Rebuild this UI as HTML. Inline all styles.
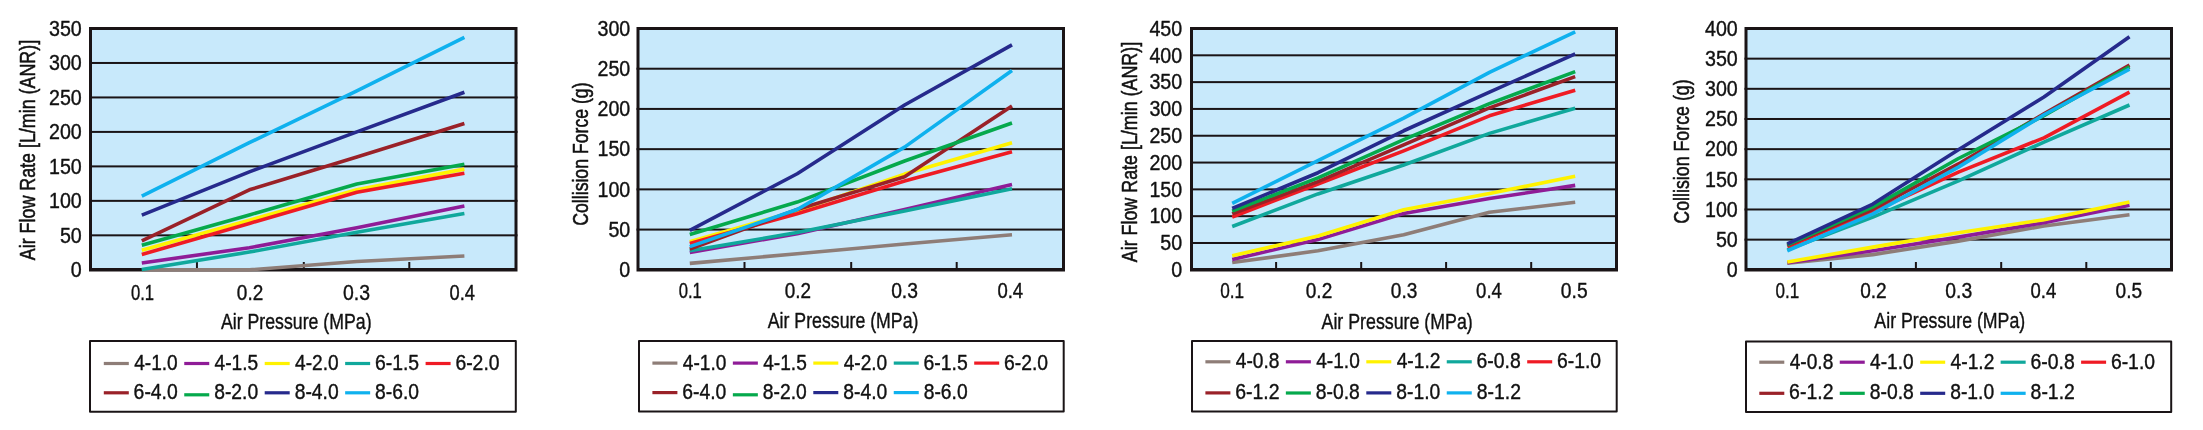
<!DOCTYPE html>
<html><head><meta charset="utf-8"><style>html,body{margin:0;padding:0;background:#fff;}svg{display:block;will-change:transform;}</style></head><body>
<svg width="2203" height="430" viewBox="0 0 2203 430" font-family="&quot;Liberation Sans&quot;, sans-serif" fill="#111" stroke-linejoin="round">
<rect width="2203" height="430" fill="#fff"/>
<rect x="89" y="27" width="428.5" height="244.5" fill="#1a1416"/>
<rect x="92" y="30" width="422.5" height="238.0" fill="#c8e9fb"/>
<rect x="89" y="234.33" width="428.5" height="2" fill="#1a1416"/>
<rect x="89" y="199.86" width="428.5" height="2" fill="#1a1416"/>
<rect x="89" y="165.39" width="428.5" height="2" fill="#1a1416"/>
<rect x="89" y="130.91" width="428.5" height="2" fill="#1a1416"/>
<rect x="89" y="96.44" width="428.5" height="2" fill="#1a1416"/>
<rect x="89" y="61.97" width="428.5" height="2" fill="#1a1416"/>
<rect x="195.95" y="262" width="2" height="7" fill="#1a1416"/>
<rect x="302.80" y="262" width="2" height="7" fill="#1a1416"/>
<rect x="408.30" y="262" width="2" height="7" fill="#1a1416"/>
<polyline points="141.80,269.80 249.33,269.80 356.86,261.53 464.39,256.01" fill="none" stroke="#8e7d77" stroke-width="3.6" stroke-linejoin="round"/>
<polyline points="141.80,262.91 249.33,247.74 356.86,227.74 464.39,206.03" fill="none" stroke="#8f1c97" stroke-width="3.6" stroke-linejoin="round"/>
<polyline points="141.80,250.29 249.33,220.16 356.86,189.83 464.39,169.14" fill="none" stroke="#fff200" stroke-width="3.6" stroke-linejoin="round"/>
<polyline points="141.80,269.52 249.33,252.08 356.86,232.23 464.39,213.40" fill="none" stroke="#10a89c" stroke-width="3.6" stroke-linejoin="round"/>
<polyline points="141.80,254.49 249.33,223.40 356.86,192.31 464.39,173.28" fill="none" stroke="#ef1b24" stroke-width="3.6" stroke-linejoin="round"/>
<polyline points="141.80,240.84 249.33,189.83 356.86,157.01 464.39,123.50" fill="none" stroke="#9a2128" stroke-width="3.6" stroke-linejoin="round"/>
<polyline points="141.80,245.33 249.33,214.92 356.86,183.97 464.39,164.32" fill="none" stroke="#05a94c" stroke-width="3.6" stroke-linejoin="round"/>
<polyline points="141.80,215.13 249.33,171.90 356.86,131.91 464.39,92.20" fill="none" stroke="#262a8c" stroke-width="3.6" stroke-linejoin="round"/>
<polyline points="141.80,196.03 249.33,142.67 356.86,90.89 464.39,37.46" fill="none" stroke="#0fb1ee" stroke-width="3.6" stroke-linejoin="round"/>
<text transform="translate(70.85,277.00) scale(0.9050,1)" font-size="21.70" stroke="#111" stroke-width="0.4">0</text>
<text transform="translate(59.93,242.53) scale(0.9050,1)" font-size="21.70" stroke="#111" stroke-width="0.4">50</text>
<text transform="translate(49.01,208.06) scale(0.9050,1)" font-size="21.70" stroke="#111" stroke-width="0.4">100</text>
<text transform="translate(49.01,173.59) scale(0.9050,1)" font-size="21.70" stroke="#111" stroke-width="0.4">150</text>
<text transform="translate(49.01,139.11) scale(0.9050,1)" font-size="21.70" stroke="#111" stroke-width="0.4">200</text>
<text transform="translate(49.01,104.64) scale(0.9050,1)" font-size="21.70" stroke="#111" stroke-width="0.4">250</text>
<text transform="translate(49.01,70.17) scale(0.9050,1)" font-size="21.70" stroke="#111" stroke-width="0.4">300</text>
<text transform="translate(49.01,35.70) scale(0.9050,1)" font-size="21.70" stroke="#111" stroke-width="0.4">350</text>
<text transform="translate(130.95,299.70) scale(0.7508,1)" font-size="22.20" stroke="#111" stroke-width="0.4">0.1</text>
<text transform="translate(236.86,299.70) scale(0.8552,1)" font-size="22.20" stroke="#111" stroke-width="0.4">0.2</text>
<text transform="translate(343.04,299.70) scale(0.8754,1)" font-size="22.20" stroke="#111" stroke-width="0.4">0.3</text>
<text transform="translate(449.49,299.70) scale(0.8246,1)" font-size="22.20" stroke="#111" stroke-width="0.4">0.4</text>
<text transform="translate(220.96,328.80) scale(0.7981,1)" font-size="22.20" stroke="#111" stroke-width="0.4">Air Pressure (MPa)</text>
<text transform="translate(35.10,260.24) rotate(-90) scale(0.8055,1)" font-size="22.20" stroke="#111" stroke-width="0.55">Air Flow Rate [L/min (ANR)]</text>
<rect x="90" y="341" width="425.79999999999995" height="70.69999999999999" fill="none" stroke="#1a1416" stroke-width="2"/>
<rect x="103.80" y="361.90" width="25" height="3.2" fill="#8e7d77"/>
<text transform="translate(134.16,370.00) scale(0.8895,1)" font-size="21.50" stroke="#111" stroke-width="0.4">4-1.0</text>
<rect x="184.25" y="361.90" width="25" height="3.2" fill="#8f1c97"/>
<text transform="translate(214.61,370.00) scale(0.8907,1)" font-size="21.50" stroke="#111" stroke-width="0.4">4-1.5</text>
<rect x="264.70" y="361.90" width="25" height="3.2" fill="#fff200"/>
<text transform="translate(295.06,370.00) scale(0.8895,1)" font-size="21.50" stroke="#111" stroke-width="0.4">4-2.0</text>
<rect x="345.15" y="361.90" width="25" height="3.2" fill="#10a89c"/>
<text transform="translate(374.96,370.00) scale(0.9021,1)" font-size="21.50" stroke="#111" stroke-width="0.4">6-1.5</text>
<rect x="425.60" y="361.90" width="25" height="3.2" fill="#ef1b24"/>
<text transform="translate(455.41,370.00) scale(0.9009,1)" font-size="21.50" stroke="#111" stroke-width="0.4">6-2.0</text>
<rect x="103.80" y="391.20" width="25" height="3.2" fill="#9a2128"/>
<text transform="translate(133.61,399.20) scale(0.9009,1)" font-size="21.50" stroke="#111" stroke-width="0.4">6-4.0</text>
<rect x="184.25" y="393.20" width="25" height="3.2" fill="#05a94c"/>
<text transform="translate(214.22,399.20) scale(0.8976,1)" font-size="21.50" stroke="#111" stroke-width="0.4">8-2.0</text>
<rect x="264.70" y="391.20" width="25" height="3.2" fill="#262a8c"/>
<text transform="translate(294.67,399.20) scale(0.8976,1)" font-size="21.50" stroke="#111" stroke-width="0.4">8-4.0</text>
<rect x="345.15" y="391.20" width="25" height="3.2" fill="#0fb1ee"/>
<text transform="translate(375.12,399.20) scale(0.8976,1)" font-size="21.50" stroke="#111" stroke-width="0.4">8-6.0</text>
<rect x="636.5" y="27" width="428.5" height="244.5" fill="#1a1416"/>
<rect x="639.5" y="30" width="422.5" height="238.0" fill="#c8e9fb"/>
<rect x="636.5" y="228.58" width="428.5" height="2" fill="#1a1416"/>
<rect x="636.5" y="188.37" width="428.5" height="2" fill="#1a1416"/>
<rect x="636.5" y="148.15" width="428.5" height="2" fill="#1a1416"/>
<rect x="636.5" y="107.93" width="428.5" height="2" fill="#1a1416"/>
<rect x="636.5" y="67.72" width="428.5" height="2" fill="#1a1416"/>
<rect x="743.50" y="262" width="2" height="7" fill="#1a1416"/>
<rect x="850.20" y="262" width="2" height="7" fill="#1a1416"/>
<rect x="955.70" y="262" width="2" height="7" fill="#1a1416"/>
<polyline points="689.80,263.37 797.20,253.71 904.60,244.06 1012.00,234.73" fill="none" stroke="#8e7d77" stroke-width="3.6" stroke-linejoin="round"/>
<polyline points="689.80,252.59 797.20,233.69 904.60,209.48 1012.00,184.38" fill="none" stroke="#8f1c97" stroke-width="3.6" stroke-linejoin="round"/>
<polyline points="689.80,241.65 797.20,210.92 904.60,174.08 1012.00,142.80" fill="none" stroke="#fff200" stroke-width="3.6" stroke-linejoin="round"/>
<polyline points="689.80,250.82 797.20,232.56 904.60,211.08 1012.00,188.72" fill="none" stroke="#10a89c" stroke-width="3.6" stroke-linejoin="round"/>
<polyline points="689.80,243.58 797.20,213.66 904.60,181.00 1012.00,151.80" fill="none" stroke="#ef1b24" stroke-width="3.6" stroke-linejoin="round"/>
<polyline points="689.80,249.13 797.20,209.48 904.60,176.66 1012.00,106.12" fill="none" stroke="#9a2128" stroke-width="3.6" stroke-linejoin="round"/>
<polyline points="689.80,234.49 797.20,202.08 904.60,160.97 1012.00,122.93" fill="none" stroke="#05a94c" stroke-width="3.6" stroke-linejoin="round"/>
<polyline points="689.80,230.39 797.20,173.76 904.60,104.99 1012.00,44.83" fill="none" stroke="#262a8c" stroke-width="3.6" stroke-linejoin="round"/>
<polyline points="689.80,246.64 797.20,209.48 904.60,147.14 1012.00,70.49" fill="none" stroke="#0fb1ee" stroke-width="3.6" stroke-linejoin="round"/>
<text transform="translate(619.35,277.00) scale(0.9050,1)" font-size="21.70" stroke="#111" stroke-width="0.4">0</text>
<text transform="translate(608.43,236.78) scale(0.9050,1)" font-size="21.70" stroke="#111" stroke-width="0.4">50</text>
<text transform="translate(597.51,196.57) scale(0.9050,1)" font-size="21.70" stroke="#111" stroke-width="0.4">100</text>
<text transform="translate(597.51,156.35) scale(0.9050,1)" font-size="21.70" stroke="#111" stroke-width="0.4">150</text>
<text transform="translate(597.51,116.13) scale(0.9050,1)" font-size="21.70" stroke="#111" stroke-width="0.4">200</text>
<text transform="translate(597.51,75.92) scale(0.9050,1)" font-size="21.70" stroke="#111" stroke-width="0.4">250</text>
<text transform="translate(597.51,35.70) scale(0.9050,1)" font-size="21.70" stroke="#111" stroke-width="0.4">300</text>
<text transform="translate(678.65,297.50) scale(0.7508,1)" font-size="22.20" stroke="#111" stroke-width="0.4">0.1</text>
<text transform="translate(784.76,297.50) scale(0.8517,1)" font-size="22.20" stroke="#111" stroke-width="0.4">0.2</text>
<text transform="translate(891.15,297.50) scale(0.8685,1)" font-size="22.20" stroke="#111" stroke-width="0.4">0.3</text>
<text transform="translate(997.38,297.50) scale(0.8348,1)" font-size="22.20" stroke="#111" stroke-width="0.4">0.4</text>
<text transform="translate(767.76,327.90) scale(0.7986,1)" font-size="22.20" stroke="#111" stroke-width="0.4">Air Pressure (MPa)</text>
<text transform="translate(587.80,225.70) rotate(-90) scale(0.7956,1)" font-size="22.20" stroke="#111" stroke-width="0.55">Collision Force (g)</text>
<rect x="639" y="341" width="424.70000000000005" height="70.60000000000002" fill="none" stroke="#1a1416" stroke-width="2"/>
<rect x="652.40" y="361.50" width="25" height="3.2" fill="#8e7d77"/>
<text transform="translate(682.76,370.00) scale(0.8895,1)" font-size="21.50" stroke="#111" stroke-width="0.4">4-1.0</text>
<rect x="732.85" y="361.50" width="25" height="3.2" fill="#8f1c97"/>
<text transform="translate(763.21,370.00) scale(0.8907,1)" font-size="21.50" stroke="#111" stroke-width="0.4">4-1.5</text>
<rect x="813.30" y="361.50" width="25" height="3.2" fill="#fff200"/>
<text transform="translate(843.66,370.00) scale(0.8895,1)" font-size="21.50" stroke="#111" stroke-width="0.4">4-2.0</text>
<rect x="893.75" y="361.50" width="25" height="3.2" fill="#10a89c"/>
<text transform="translate(923.56,370.00) scale(0.9021,1)" font-size="21.50" stroke="#111" stroke-width="0.4">6-1.5</text>
<rect x="974.20" y="361.50" width="25" height="3.2" fill="#ef1b24"/>
<text transform="translate(1004.01,370.00) scale(0.9009,1)" font-size="21.50" stroke="#111" stroke-width="0.4">6-2.0</text>
<rect x="652.40" y="391.00" width="25" height="3.2" fill="#9a2128"/>
<text transform="translate(682.21,398.80) scale(0.9009,1)" font-size="21.50" stroke="#111" stroke-width="0.4">6-4.0</text>
<rect x="732.85" y="393.20" width="25" height="3.2" fill="#05a94c"/>
<text transform="translate(762.82,398.80) scale(0.8976,1)" font-size="21.50" stroke="#111" stroke-width="0.4">8-2.0</text>
<rect x="813.30" y="391.00" width="25" height="3.2" fill="#262a8c"/>
<text transform="translate(843.27,398.80) scale(0.8976,1)" font-size="21.50" stroke="#111" stroke-width="0.4">8-4.0</text>
<rect x="893.75" y="391.00" width="25" height="3.2" fill="#0fb1ee"/>
<text transform="translate(923.72,398.80) scale(0.8976,1)" font-size="21.50" stroke="#111" stroke-width="0.4">8-6.0</text>
<rect x="1190" y="27" width="428" height="244.5" fill="#1a1416"/>
<rect x="1193" y="30" width="422" height="238.0" fill="#c8e9fb"/>
<rect x="1190" y="241.99" width="428" height="2" fill="#1a1416"/>
<rect x="1190" y="215.18" width="428" height="2" fill="#1a1416"/>
<rect x="1190" y="188.37" width="428" height="2" fill="#1a1416"/>
<rect x="1190" y="161.56" width="428" height="2" fill="#1a1416"/>
<rect x="1190" y="134.74" width="428" height="2" fill="#1a1416"/>
<rect x="1190" y="107.93" width="428" height="2" fill="#1a1416"/>
<rect x="1190" y="81.12" width="428" height="2" fill="#1a1416"/>
<rect x="1190" y="54.31" width="428" height="2" fill="#1a1416"/>
<rect x="1275.10" y="262" width="2" height="7" fill="#1a1416"/>
<rect x="1360.20" y="262" width="2" height="7" fill="#1a1416"/>
<rect x="1445.10" y="262" width="2" height="7" fill="#1a1416"/>
<rect x="1530.20" y="262" width="2" height="7" fill="#1a1416"/>
<polyline points="1232.20,262.51 1317.95,250.82 1403.70,234.68 1489.45,212.32 1575.20,202.29" fill="none" stroke="#8e7d77" stroke-width="3.6" stroke-linejoin="round"/>
<polyline points="1232.20,259.50 1317.95,239.61 1403.70,213.50 1489.45,198.59 1575.20,185.40" fill="none" stroke="#8f1c97" stroke-width="3.6" stroke-linejoin="round"/>
<polyline points="1232.20,255.80 1317.95,235.91 1403.70,209.80 1489.45,193.60 1575.20,176.18" fill="none" stroke="#fff200" stroke-width="3.6" stroke-linejoin="round"/>
<polyline points="1232.20,226.53 1317.95,193.92 1403.70,164.97 1489.45,133.39 1575.20,108.18" fill="none" stroke="#10a89c" stroke-width="3.6" stroke-linejoin="round"/>
<polyline points="1232.20,216.98 1317.95,184.00 1403.70,150.92 1489.45,115.80 1575.20,90.17" fill="none" stroke="#ef1b24" stroke-width="3.6" stroke-linejoin="round"/>
<polyline points="1232.20,213.76 1317.95,181.59 1403.70,144.86 1489.45,107.86 1575.20,76.65" fill="none" stroke="#9a2128" stroke-width="3.6" stroke-linejoin="round"/>
<polyline points="1232.20,211.08 1317.95,177.89 1403.70,139.71 1489.45,103.68 1575.20,71.67" fill="none" stroke="#05a94c" stroke-width="3.6" stroke-linejoin="round"/>
<polyline points="1232.20,208.40 1317.95,172.74 1403.70,130.76 1489.45,92.10 1575.20,53.97" fill="none" stroke="#262a8c" stroke-width="3.6" stroke-linejoin="round"/>
<polyline points="1232.20,203.31 1317.95,160.68 1403.70,118.05 1489.45,72.31 1575.20,31.93" fill="none" stroke="#0fb1ee" stroke-width="3.6" stroke-linejoin="round"/>
<text transform="translate(1171.25,277.00) scale(0.9050,1)" font-size="21.70" stroke="#111" stroke-width="0.4">0</text>
<text transform="translate(1160.33,250.19) scale(0.9050,1)" font-size="21.70" stroke="#111" stroke-width="0.4">50</text>
<text transform="translate(1149.41,223.38) scale(0.9050,1)" font-size="21.70" stroke="#111" stroke-width="0.4">100</text>
<text transform="translate(1149.41,196.57) scale(0.9050,1)" font-size="21.70" stroke="#111" stroke-width="0.4">150</text>
<text transform="translate(1149.41,169.76) scale(0.9050,1)" font-size="21.70" stroke="#111" stroke-width="0.4">200</text>
<text transform="translate(1149.41,142.94) scale(0.9050,1)" font-size="21.70" stroke="#111" stroke-width="0.4">250</text>
<text transform="translate(1149.41,116.13) scale(0.9050,1)" font-size="21.70" stroke="#111" stroke-width="0.4">300</text>
<text transform="translate(1149.41,89.32) scale(0.9050,1)" font-size="21.70" stroke="#111" stroke-width="0.4">350</text>
<text transform="translate(1149.41,62.51) scale(0.9050,1)" font-size="21.70" stroke="#111" stroke-width="0.4">400</text>
<text transform="translate(1149.41,35.70) scale(0.9050,1)" font-size="21.70" stroke="#111" stroke-width="0.4">450</text>
<text transform="translate(1220.23,298.40) scale(0.7750,1)" font-size="22.20" stroke="#111" stroke-width="0.4">0.1</text>
<text transform="translate(1305.76,298.40) scale(0.8587,1)" font-size="22.20" stroke="#111" stroke-width="0.4">0.2</text>
<text transform="translate(1390.86,298.40) scale(0.8582,1)" font-size="22.20" stroke="#111" stroke-width="0.4">0.3</text>
<text transform="translate(1476.07,298.40) scale(0.8382,1)" font-size="22.20" stroke="#111" stroke-width="0.4">0.4</text>
<text transform="translate(1560.85,298.40) scale(0.8672,1)" font-size="22.20" stroke="#111" stroke-width="0.4">0.5</text>
<text transform="translate(1321.56,328.80) scale(0.8013,1)" font-size="22.20" stroke="#111" stroke-width="0.4">Air Pressure (MPa)</text>
<text transform="translate(1136.70,262.24) rotate(-90) scale(0.8052,1)" font-size="22.20" stroke="#111" stroke-width="0.55">Air Flow Rate [L/min (ANR)]</text>
<rect x="1192" y="341" width="424.70000000000005" height="70.60000000000002" fill="none" stroke="#1a1416" stroke-width="2"/>
<rect x="1205.40" y="360.20" width="25" height="3.2" fill="#8e7d77"/>
<text transform="translate(1235.76,368.10) scale(0.8911,1)" font-size="21.50" stroke="#111" stroke-width="0.4">4-0.8</text>
<rect x="1285.85" y="360.20" width="25" height="3.2" fill="#8f1c97"/>
<text transform="translate(1316.21,368.10) scale(0.8895,1)" font-size="21.50" stroke="#111" stroke-width="0.4">4-1.0</text>
<rect x="1366.30" y="360.20" width="25" height="3.2" fill="#fff200"/>
<text transform="translate(1396.66,368.10) scale(0.8940,1)" font-size="21.50" stroke="#111" stroke-width="0.4">4-1.2</text>
<rect x="1446.75" y="360.20" width="25" height="3.2" fill="#10a89c"/>
<text transform="translate(1476.56,368.10) scale(0.9026,1)" font-size="21.50" stroke="#111" stroke-width="0.4">6-0.8</text>
<rect x="1527.20" y="360.20" width="25" height="3.2" fill="#ef1b24"/>
<text transform="translate(1557.01,368.10) scale(0.9009,1)" font-size="21.50" stroke="#111" stroke-width="0.4">6-1.0</text>
<rect x="1205.40" y="391.30" width="25" height="3.2" fill="#9a2128"/>
<text transform="translate(1235.21,399.10) scale(0.9055,1)" font-size="21.50" stroke="#111" stroke-width="0.4">6-1.2</text>
<rect x="1285.85" y="391.40" width="25" height="3.2" fill="#05a94c"/>
<text transform="translate(1315.82,399.10) scale(0.8993,1)" font-size="21.50" stroke="#111" stroke-width="0.4">8-0.8</text>
<rect x="1366.30" y="391.30" width="25" height="3.2" fill="#262a8c"/>
<text transform="translate(1396.27,399.10) scale(0.8976,1)" font-size="21.50" stroke="#111" stroke-width="0.4">8-1.0</text>
<rect x="1446.75" y="391.30" width="25" height="3.2" fill="#0fb1ee"/>
<text transform="translate(1476.72,399.10) scale(0.9021,1)" font-size="21.50" stroke="#111" stroke-width="0.4">8-1.2</text>
<rect x="1744.5" y="27" width="428.5" height="244.5" fill="#1a1416"/>
<rect x="1747.5" y="30" width="422.5" height="238.0" fill="#c8e9fb"/>
<rect x="1744.5" y="238.64" width="428.5" height="2" fill="#1a1416"/>
<rect x="1744.5" y="208.48" width="428.5" height="2" fill="#1a1416"/>
<rect x="1744.5" y="178.31" width="428.5" height="2" fill="#1a1416"/>
<rect x="1744.5" y="148.15" width="428.5" height="2" fill="#1a1416"/>
<rect x="1744.5" y="117.99" width="428.5" height="2" fill="#1a1416"/>
<rect x="1744.5" y="87.82" width="428.5" height="2" fill="#1a1416"/>
<rect x="1744.5" y="57.66" width="428.5" height="2" fill="#1a1416"/>
<rect x="1829.80" y="262" width="2" height="7" fill="#1a1416"/>
<rect x="1914.90" y="262" width="2" height="7" fill="#1a1416"/>
<rect x="2000.20" y="262" width="2" height="7" fill="#1a1416"/>
<rect x="2085.30" y="262" width="2" height="7" fill="#1a1416"/>
<polyline points="1787.30,263.28 1872.85,254.60 1958.40,241.15 2043.95,226.00 2129.50,214.78" fill="none" stroke="#8e7d77" stroke-width="3.6" stroke-linejoin="round"/>
<polyline points="1787.30,262.80 1872.85,250.80 1958.40,237.10 2043.95,222.75 2129.50,205.25" fill="none" stroke="#8f1c97" stroke-width="3.6" stroke-linejoin="round"/>
<polyline points="1787.30,262.02 1872.85,247.12 1958.40,232.70 2043.95,219.73 2129.50,201.93" fill="none" stroke="#fff200" stroke-width="3.6" stroke-linejoin="round"/>
<polyline points="1787.30,249.89 1872.85,217.08 1958.40,180.88 2043.95,142.03 2129.50,104.99" fill="none" stroke="#10a89c" stroke-width="3.6" stroke-linejoin="round"/>
<polyline points="1787.30,246.51 1872.85,211.53 1958.40,172.07 2043.95,137.81 2129.50,92.20" fill="none" stroke="#ef1b24" stroke-width="3.6" stroke-linejoin="round"/>
<polyline points="1787.30,245.31 1872.85,209.23 1958.40,163.93 2043.95,113.86 2129.50,65.00" fill="none" stroke="#9a2128" stroke-width="3.6" stroke-linejoin="round"/>
<polyline points="1787.30,244.77 1872.85,206.82 1958.40,158.50 2043.95,115.67 2129.50,66.93" fill="none" stroke="#05a94c" stroke-width="3.6" stroke-linejoin="round"/>
<polyline points="1787.30,243.86 1872.85,204.05 1958.40,149.75 2043.95,97.09 2129.50,36.70" fill="none" stroke="#262a8c" stroke-width="3.6" stroke-linejoin="round"/>
<polyline points="1787.30,250.80 1872.85,213.82 1958.40,167.13 2043.95,114.76 2129.50,69.10" fill="none" stroke="#0fb1ee" stroke-width="3.6" stroke-linejoin="round"/>
<text transform="translate(1726.85,277.00) scale(0.9050,1)" font-size="21.70" stroke="#111" stroke-width="0.4">0</text>
<text transform="translate(1715.93,246.84) scale(0.9050,1)" font-size="21.70" stroke="#111" stroke-width="0.4">50</text>
<text transform="translate(1705.01,216.68) scale(0.9050,1)" font-size="21.70" stroke="#111" stroke-width="0.4">100</text>
<text transform="translate(1705.01,186.51) scale(0.9050,1)" font-size="21.70" stroke="#111" stroke-width="0.4">150</text>
<text transform="translate(1705.01,156.35) scale(0.9050,1)" font-size="21.70" stroke="#111" stroke-width="0.4">200</text>
<text transform="translate(1705.01,126.19) scale(0.9050,1)" font-size="21.70" stroke="#111" stroke-width="0.4">250</text>
<text transform="translate(1705.01,96.02) scale(0.9050,1)" font-size="21.70" stroke="#111" stroke-width="0.4">300</text>
<text transform="translate(1705.01,65.86) scale(0.9050,1)" font-size="21.70" stroke="#111" stroke-width="0.4">350</text>
<text transform="translate(1705.01,35.70) scale(0.9050,1)" font-size="21.70" stroke="#111" stroke-width="0.4">400</text>
<text transform="translate(1775.44,297.50) scale(0.7680,1)" font-size="22.20" stroke="#111" stroke-width="0.4">0.1</text>
<text transform="translate(1860.16,297.50) scale(0.8587,1)" font-size="22.20" stroke="#111" stroke-width="0.4">0.2</text>
<text transform="translate(1945.25,297.50) scale(0.8720,1)" font-size="22.20" stroke="#111" stroke-width="0.4">0.3</text>
<text transform="translate(2030.48,297.50) scale(0.8348,1)" font-size="22.20" stroke="#111" stroke-width="0.4">0.4</text>
<text transform="translate(2115.56,297.50) scale(0.8603,1)" font-size="22.20" stroke="#111" stroke-width="0.4">0.5</text>
<text transform="translate(1874.36,327.70) scale(0.7997,1)" font-size="22.20" stroke="#111" stroke-width="0.4">Air Pressure (MPa)</text>
<text transform="translate(1688.50,223.71) rotate(-90) scale(0.8018,1)" font-size="22.20" stroke="#111" stroke-width="0.55">Collision Force (g)</text>
<rect x="1746" y="341.5" width="425.1999999999998" height="70.60000000000002" fill="none" stroke="#1a1416" stroke-width="2"/>
<rect x="1759.30" y="360.60" width="25" height="3.2" fill="#8e7d77"/>
<text transform="translate(1789.66,368.50) scale(0.8911,1)" font-size="21.50" stroke="#111" stroke-width="0.4">4-0.8</text>
<rect x="1839.75" y="360.60" width="25" height="3.2" fill="#8f1c97"/>
<text transform="translate(1870.11,368.50) scale(0.8895,1)" font-size="21.50" stroke="#111" stroke-width="0.4">4-1.0</text>
<rect x="1920.20" y="360.60" width="25" height="3.2" fill="#fff200"/>
<text transform="translate(1950.56,368.50) scale(0.8940,1)" font-size="21.50" stroke="#111" stroke-width="0.4">4-1.2</text>
<rect x="2000.65" y="360.60" width="25" height="3.2" fill="#10a89c"/>
<text transform="translate(2030.46,368.50) scale(0.9026,1)" font-size="21.50" stroke="#111" stroke-width="0.4">6-0.8</text>
<rect x="2081.10" y="360.60" width="25" height="3.2" fill="#ef1b24"/>
<text transform="translate(2110.91,368.50) scale(0.9009,1)" font-size="21.50" stroke="#111" stroke-width="0.4">6-1.0</text>
<rect x="1759.30" y="391.70" width="25" height="3.2" fill="#9a2128"/>
<text transform="translate(1789.11,399.40) scale(0.9055,1)" font-size="21.50" stroke="#111" stroke-width="0.4">6-1.2</text>
<rect x="1839.75" y="391.70" width="25" height="3.2" fill="#05a94c"/>
<text transform="translate(1869.72,399.40) scale(0.8993,1)" font-size="21.50" stroke="#111" stroke-width="0.4">8-0.8</text>
<rect x="1920.20" y="391.70" width="25" height="3.2" fill="#262a8c"/>
<text transform="translate(1950.17,399.40) scale(0.8976,1)" font-size="21.50" stroke="#111" stroke-width="0.4">8-1.0</text>
<rect x="2000.65" y="391.70" width="25" height="3.2" fill="#0fb1ee"/>
<text transform="translate(2030.62,399.40) scale(0.9021,1)" font-size="21.50" stroke="#111" stroke-width="0.4">8-1.2</text>
</svg>
</body></html>
